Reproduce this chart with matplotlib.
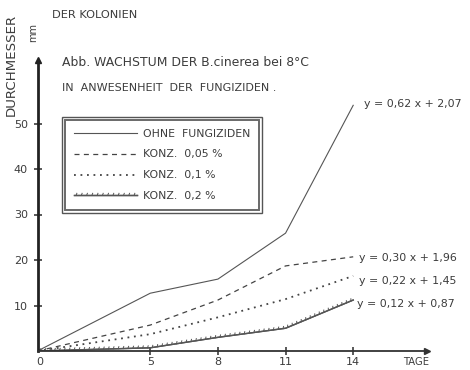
import matplotlib
matplotlib.use("Agg")
import matplotlib.pyplot as plt
import matplotlib.patheffects as pe
from matplotlib.patches import Rectangle

# Kolonie-Durchmesser (mm) nach Tagen, je Fungizid-Konzentration
tage = [0, 5, 8, 11, 14]
ohne = [0, 12.7, 15.8, 25.9, 54.0]
konz_005 = [0, 5.7, 11.2, 18.7, 20.7]
konz_01 = [0, 3.7, 7.4, 11.4, 16.5]
konz_02 = [0, 0.7, 3.0, 5.0, 11.2]

labels = ["OHNE  FUNGIZIDEN", "KONZ.  0,05 %", "KONZ.  0,1 %", "KONZ.  0,2 %"]
gleichungen = ["y = 0,62 x + 2,07", "y = 0,30 x + 1,96",
               "y = 0,22 x + 1,45", "y = 0,12 x + 0,87"]
y_ticks = [10, 20, 30, 40, 50]
x_ticks = [5, 8, 11, 14]

W, H = 470, 370
ink = "#3c3c3c"

fig = plt.figure(figsize=(4.7, 3.7), dpi=100)
fig.patch.set_facecolor("white")

def fx(px):
    return px / W

def fy(py):
    return 1 - py / H

# axes placed so that day 0 / 0 mm sits at the drawn origin
x0, x1 = 37.5, 427
y0, y1 = 351, 60
ax = fig.add_axes([fx(x0), fy(y0), fx(x1) - fx(x0), (y0 - y1) / H])
ax.set_xlim(0, (x1 - x0) / 22.55)
ax.set_ylim(0, (y0 - y1) / 4.55)
ax.set_facecolor("none")

for s in ["top", "right"]:
    ax.spines[s].set_visible(False)
ax.spines["left"].set_linewidth(2.0)
ax.spines["left"].set_color("#222")
ax.spines["bottom"].set_linewidth(1.3)
ax.spines["bottom"].set_color("#333")

# arrow heads on the axes
ax.plot(0, 1, marker="^", color="#222", ms=5, transform=ax.transAxes, clip_on=False)
ax.plot(1, 0, marker=">", color="#333", ms=5, transform=ax.transAxes, clip_on=False)

ax.set_yticks(y_ticks)
ax.set_yticklabels([str(t) for t in y_ticks])
ax.set_xticks(x_ticks)
ax.set_xticklabels([str(t) for t in x_ticks])
ax.tick_params(axis="both", direction="inout", length=6, width=1.2, colors=ink,
               labelsize=8, pad=4)
ax.tick_params(axis="x", pad=1.5)

l1, = ax.plot(tage, ohne, color="#555", lw=0.8, ls="-", label=labels[0])
l2, = ax.plot(tage, konz_005, color="#444", lw=0.9, ls=(0, (4, 3.5)), label=labels[1])
l3, = ax.plot(tage, konz_01, color="#444", lw=1.3, ls=(0, (1, 2.6)), label=labels[2])
l4, = ax.plot(tage, konz_02, color="#555", lw=1.0, ls="-", label=labels[3],
              path_effects=[pe.withTickedStroke(angle=70, length=0.45, spacing=3.5,
                                                linewidth=0.7), pe.Normal()])

# Regressionsgleichungen am Ende jeder Kurve
ends = [ohne[-1], konz_005[-1], konz_01[-1], konz_02[-1]]
offs = [(8, 1), (4, -1), (4, -4), (3, -3)]
for g, v, o in zip(gleichungen, ends, offs):
    ax.annotate(g, xy=(14, v), xytext=o, textcoords="offset points",
                fontsize=7.9, color=ink, va="center", ha="left", annotation_clip=False)

# Beschriftungen
fig.text(fx(40), fy(362), "0", fontsize=8, color=ink, ha="center", va="center")
fig.text(fx(416), fy(362), "TAGE", fontsize=7.2, color=ink, ha="center", va="center")
fig.text(fx(11), fy(65), "DURCHMESSER", fontsize=9.6, color=ink, rotation=90,
         ha="center", va="center")
fig.text(fx(33), fy(32), "mm", fontsize=7, color=ink, rotation=90,
         ha="center", va="center")
fig.text(fx(52), fy(15), "DER KOLONIEN", fontsize=8.2, color=ink, ha="left", va="center")
fig.text(fx(62), fy(62), "Abb. WACHSTUM DER B.cinerea bei 8°C", fontsize=8.9,
         color=ink, ha="left", va="center")
fig.text(fx(62), fy(88), "IN  ANWESENHEIT  DER  FUNGIZIDEN .", fontsize=8.0,
         color=ink, ha="left", va="center")

leg = ax.legend(handles=[l1, l2, l3, l4], loc="upper left",
                bbox_to_anchor=(fx(65), fy(120)), bbox_transform=fig.transFigure,
                frameon=True, fancybox=False, fontsize=7.8, handlelength=5.8,
                handletextpad=0.6, labelspacing=1.0, borderpad=0.8,
                borderaxespad=0)
frame = leg.get_frame()
frame.set_edgecolor("#444")
frame.set_linewidth(1.4)
for t in leg.get_texts():
    t.set_color(ink)

# second, outer border of the legend box
fig.canvas.draw()
bb = leg.get_window_extent().transformed(fig.transFigure.inverted())
pad = 3 / W
fig.add_artist(Rectangle((bb.x0 - pad, bb.y0 - pad * W / H), bb.width + 2 * pad,
                         bb.height + 2 * pad * W / H, transform=fig.transFigure,
                         fill=False, edgecolor="#555", lw=1.0))

fig.savefig("out.png", dpi=100)
